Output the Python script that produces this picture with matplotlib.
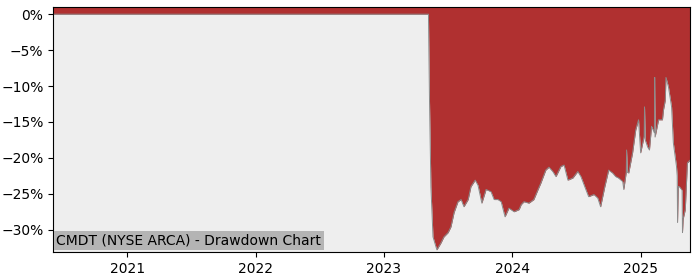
import pandas as pd
import matplotlib
matplotlib.use("Agg")
import matplotlib.pyplot as plt
from matplotlib.ticker import PercentFormatter
import matplotlib.dates as mdates

# drawdown in percent
dates = [
    "2020-06-04", "2023-05-08", "2023-05-11", "2023-05-15", "2023-05-21",
    "2023-06-01", "2023-06-13", "2023-06-21", "2023-07-03", "2023-07-11",
    "2023-07-20", "2023-07-31", "2023-08-09", "2023-08-17", "2023-08-29",
    "2023-09-06", "2023-09-18", "2023-09-26", "2023-10-07", "2023-10-19",
    "2023-11-02", "2023-11-11", "2023-11-22", "2023-12-01", "2023-12-12",
    "2023-12-23", "2024-01-07", "2024-01-21", "2024-01-27", "2024-02-04",
    "2024-02-18", "2024-03-03", "2024-03-15", "2024-03-23", "2024-04-06",
    "2024-04-15", "2024-04-26", "2024-05-05", "2024-05-19", "2024-05-28",
    "2024-06-08", "2024-06-22", "2024-07-06", "2024-07-15", "2024-07-29",
    "2024-08-06", "2024-08-21", "2024-09-01", "2024-09-09", "2024-09-21",
    "2024-10-02", "2024-10-13", "2024-10-22", "2024-10-30", "2024-11-11",
    "2024-11-14", "2024-11-21", "2024-11-22", "2024-11-24", "2024-11-28",
    "2024-12-09", "2024-12-18", "2024-12-26", "2025-01-01", "2025-01-11",
    "2025-01-12", "2025-01-14", "2025-01-21", "2025-01-26", "2025-02-01",
    "2025-02-09", "2025-02-10", "2025-02-11", "2025-02-21", "2025-03-04",
    "2025-03-07", "2025-03-12", "2025-03-14", "2025-03-21", "2025-03-30",
    "2025-04-04", "2025-04-13", "2025-04-15", "2025-04-16", "2025-04-18",
    "2025-04-21", "2025-04-29", "2025-04-30", "2025-05-02", "2025-05-08",
    "2025-05-14", "2025-05-22",
]
drawdown = [
    0.0, 0.0, -12.0, -24.0, -31.0,
    -32.8, -31.8, -31.0, -30.4, -29.6,
    -27.6, -26.1, -25.8, -26.8, -25.8,
    -24.0, -23.1, -23.8, -26.3, -24.4,
    -24.7, -25.8, -25.8, -26.1, -28.2,
    -27.0, -27.5, -27.2, -26.5, -26.1,
    -26.3, -25.8, -24.4, -23.5, -21.7,
    -21.3, -21.9, -22.6, -21.2, -21.0,
    -23.1, -22.8, -21.9, -22.6, -24.4,
    -25.4, -25.1, -25.6, -26.8, -24.0,
    -21.7, -22.1, -22.6, -22.8, -23.3,
    -24.4, -22.0, -18.9, -22.0, -22.1,
    -19.3, -16.1, -14.7, -19.3, -17.0,
    -12.9, -17.5, -18.5, -18.9, -15.6,
    -16.5, -8.8, -17.1, -14.7, -14.7,
    -13.3, -12.0, -8.8, -10.1, -12.9,
    -17.9, -21.2, -22.5, -29.0, -24.0,
    -24.0, -24.5, -30.4, -28.5, -27.2,
    -20.7, -20.3,
]
title = "CMDT (NYSE ARCA) - Drawdown Chart"

s = pd.Series(drawdown, index=pd.to_datetime(dates))

fig = plt.figure(figsize=(7, 2.8), dpi=100)
ax = fig.add_axes([0.076, 0.1, 0.91, 0.875])
ax.set_facecolor("#eeeeee")

top = 1.0
ax.fill_between(s.index, s.values, top, color="#b03030", linewidth=0)
ax.plot(s.index, s.values, color="#8a8a8a", linewidth=0.7)

ax.set_xlim(s.index[0], s.index[-1])
ax.set_ylim(-33.1, top)
ax.set_yticks([0, -5, -10, -15, -20, -25, -30])
ax.yaxis.set_major_formatter(PercentFormatter(xmax=100, decimals=0))
ax.xaxis.set_major_locator(mdates.YearLocator())
ax.xaxis.set_major_formatter(mdates.DateFormatter("%Y"))
ax.tick_params(labelsize=10)

ax.text(0.005, 0.018, title, transform=ax.transAxes, fontsize=10,
        ha="left", va="bottom",
        bbox=dict(facecolor="#b4b4b4", edgecolor="none", pad=2))

fig.savefig("out.png", dpi=100)
